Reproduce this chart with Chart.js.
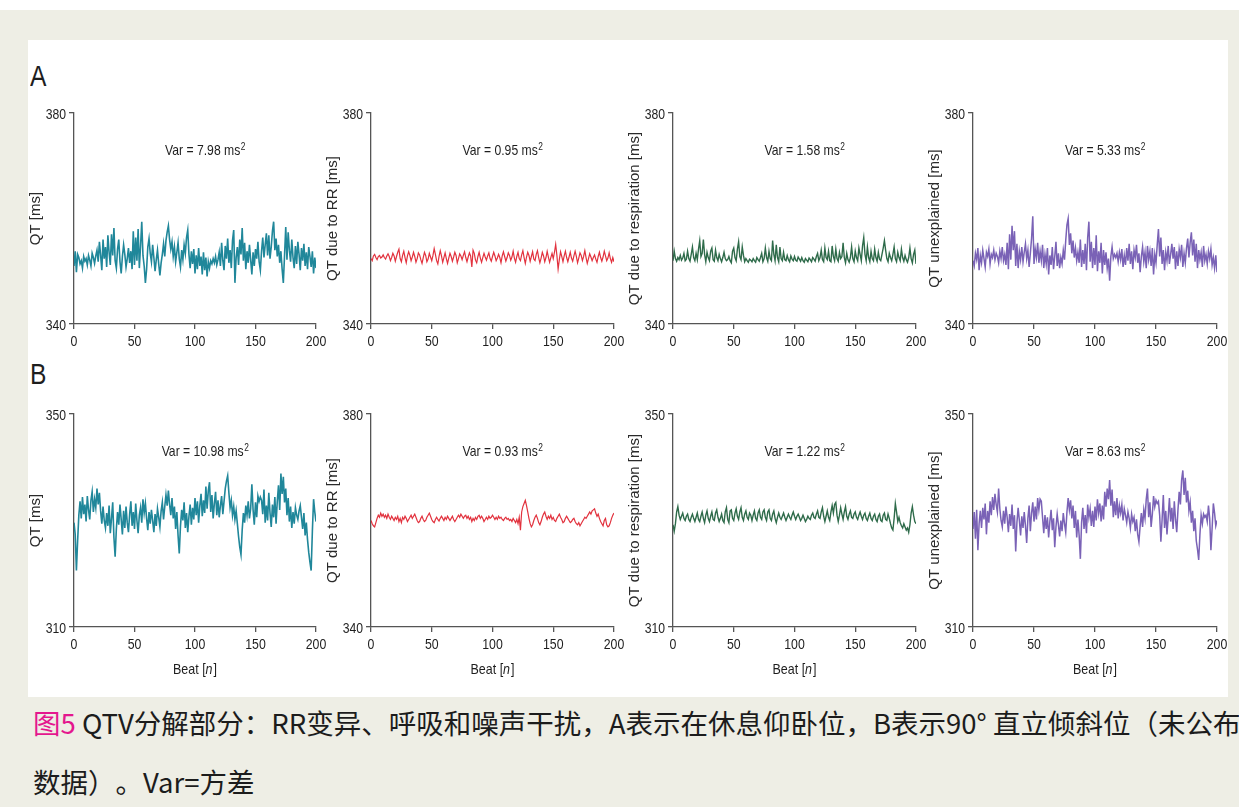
<!DOCTYPE html>
<html lang="zh">
<head>
<meta charset="utf-8">
<title>QTV分解部分</title>
<script src="https://cdn.jsdelivr.net/npm/chart.js@4.4.1/dist/chart.umd.min.js"></script>
<style>
  html, body { margin: 0; padding: 0; }
  body {
    width: 1239px; height: 807px; overflow: hidden; position: relative;
    background: #eeeee5;
  }
  .topband { position: absolute; left: 0; top: 0; width: 1239px; height: 10px; background: #fff; }
  .sheet { position: absolute; left: 28px; top: 40px; width: 1200px; height: 657px; background: #fff; }
  .letter {
    position: absolute; left: 30px; font-size: 29px; line-height: 29px; color: #1e1e1e;
    font-family: 'Liberation Sans', Arial, sans-serif;
    transform: scaleX(0.85); transform-origin: left top;
  }
  canvas { position: absolute; }
  .caption {
    position: absolute; left: 33px; white-space: nowrap; color: #1c1c1c;
    font-family: 'Noto Sans CJK SC', sans-serif; font-size: 27.5px; line-height: 30px; font-weight: 400;
    text-spacing-trim: space-all;
  }
  .caption .fig { color: #e4178e; }
</style>
</head>
<body>
<div class="topband"></div>
<div class="sheet"></div>
<div class="letter" style="top:62px">A</div>
<div class="letter" style="top:360px">B</div>
<div class="caption" style="top:707px"><span class="fig">图5</span> QTV分解部分：RR变异、呼吸和噪声干扰，A表示在休息仰卧位，B表示90° 直立倾斜位（未公布</div>
<div class="caption" style="top:766px">数据）。Var=方差</div>

<canvas id="a1"></canvas><canvas id="a2"></canvas><canvas id="a3"></canvas><canvas id="a4"></canvas>
<canvas id="b1"></canvas><canvas id="b2"></canvas><canvas id="b3"></canvas><canvas id="b4"></canvas>

<script>
// beat index shared by every trace
const beats = Array.from({ length: 201 }, (_, i) => i);
const xTicks = [0, 50, 100, 150, 200];

const yTitles = ['QT [ms]', 'QT due to RR [ms]', 'QT due to respiration [ms]', 'QT unexplained [ms]'];
const rangesA = [[340, 380], [340, 380], [340, 380], [340, 380]];
const rangesB = [[310, 350], [340, 380], [310, 350], [310, 350]];
const varianceA = ['7.98', '0.95', '1.58', '5.33'];
const varianceB = ['10.98', '0.93', '1.22', '8.63'];

// A: supine rest
const restQT = [
  351.0, 353.8, 349.8, 353.2, 352.6, 351.4, 352.0, 350.6, 352.8, 351.9, 352.4, 351.2, 353.0, 352.1, 351.0, 353.4, 352.6, 351.5, 352.9, 354.0,
  351.8, 355.6, 353.0, 350.2, 356.0, 352.4, 354.6, 350.8, 356.8, 353.6, 351.2, 357.0, 353.0, 358.2, 352.0, 350.6, 354.2, 356.0, 351.8, 349.6,
  352.8, 355.0, 353.2, 350.8, 352.4, 354.4, 351.6, 353.8, 350.4, 357.6, 351.2, 356.4, 352.0, 358.0, 350.6, 354.8, 359.4, 353.0, 351.0, 347.8,
  350.4, 354.6, 356.2, 353.4, 351.8, 355.0, 352.6, 350.0, 352.2, 354.0, 351.4, 349.2, 351.6, 353.2, 355.2, 352.8, 355.8, 357.4, 358.6, 356.0,
  354.2, 355.6, 352.8, 354.6, 351.8, 353.6, 355.4, 352.4, 350.8, 354.0, 352.2, 355.0, 353.4, 356.4, 357.8, 353.2, 350.6, 353.8, 351.4, 354.2,
  349.6, 353.0, 350.4, 354.4, 351.0, 352.8, 349.4, 353.6, 350.2, 352.6, 349.0, 351.8, 350.6, 352.0, 351.4, 352.4, 351.6, 352.8, 351.2, 352.2,
  353.6, 351.0, 355.4, 352.0, 350.2, 354.8, 352.4, 356.2, 351.6, 354.0, 350.6, 355.8, 357.8, 347.8, 352.6, 354.6, 351.2, 356.0, 353.2, 358.2,
  352.0, 355.4, 350.4, 353.8, 351.6, 355.0, 352.2, 349.4, 353.6, 351.0, 354.2, 352.4, 355.6, 351.8, 350.2, 353.8, 356.4, 352.6, 355.0, 357.2,
  353.0, 356.8, 352.4, 354.6, 357.6, 359.4, 354.0, 356.2, 352.8, 355.0, 351.6, 353.8, 350.4, 347.8, 353.0, 358.4, 352.2, 357.4, 354.0, 351.8,
  356.0, 352.6, 350.6, 354.8, 351.4, 355.6, 353.2, 350.2, 354.4, 352.0, 355.2, 351.0, 353.6, 350.4, 354.6, 352.8, 350.8, 353.8, 349.6, 352.6,
  350.6
];
const restQTrr = [
  352.4, 352.0, 352.9, 353.2, 352.6, 352.2, 352.8, 353.0, 352.5, 352.7, 353.1, 352.6, 352.3, 352.9, 353.3, 352.8, 352.0, 352.6, 353.4, 352.9,
  351.9, 352.8, 353.6, 354.2, 352.4, 351.8, 353.0, 353.8, 352.6, 351.6, 352.9, 353.7, 353.0, 352.0, 352.7, 353.6, 352.8, 351.7, 352.4, 353.5,
  353.1, 352.2, 351.5, 352.6, 353.6, 353.0, 351.8, 352.3, 353.4, 352.7, 352.0, 353.0, 354.3, 353.2, 352.0, 351.4, 352.8, 353.9, 352.9, 351.7,
  352.6, 353.5, 352.4, 351.5, 352.5, 353.4, 352.8, 351.9, 352.7, 353.6, 353.0, 351.6, 352.4, 353.3, 352.9, 352.2, 353.0, 353.7, 352.6, 351.8,
  352.7, 353.5, 352.9, 350.8, 354.0, 353.4, 352.1, 351.6, 352.8, 353.6, 352.5, 351.7, 352.6, 353.4, 352.7, 352.1, 352.9, 353.5, 352.4, 351.9,
  352.8, 353.6, 352.9, 352.0, 352.5, 353.2, 352.6, 351.6, 352.9, 353.7, 352.8, 351.9, 352.6, 353.5, 353.0, 352.1, 352.7, 353.8, 352.5, 351.7,
  352.8, 353.6, 352.4, 352.0, 353.1, 353.9, 352.6, 351.5, 352.7, 353.6, 353.0, 351.9, 352.8, 353.7, 352.3, 352.0, 353.2, 353.9, 352.6, 351.6,
  352.5, 353.6, 352.9, 351.8, 352.6, 353.8, 352.7, 351.7, 352.6, 353.4, 352.4, 353.6, 355.1, 353.0, 350.4, 352.2, 353.7, 352.8, 351.8, 352.9,
  353.8, 352.6, 351.8, 352.7, 353.6, 352.5, 351.9, 352.9, 353.8, 352.8, 351.6, 352.5, 353.5, 353.0, 352.0, 352.8, 353.9, 352.6, 351.5, 352.4,
  353.3, 352.7, 352.0, 352.6, 353.1, 352.3, 351.7, 352.8, 353.6, 352.6, 351.9, 352.7, 353.8, 352.9, 352.0, 352.5, 353.5, 352.4, 351.7, 352.6,
  351.8
];
const restQTresp = [
  352.0, 353.8, 352.4, 351.9, 352.6, 352.2, 353.0, 352.1, 352.5, 353.4, 352.0, 352.3, 353.8, 352.4, 351.9, 353.2, 354.6, 352.6, 352.0, 353.4,
  352.2, 354.2, 355.8, 352.8, 353.4, 356.0, 353.2, 351.8, 353.6, 352.6, 352.0, 353.8, 354.4, 352.2, 351.9, 354.0, 352.6, 352.0, 353.2, 352.4,
  351.8, 352.6, 353.6, 352.4, 352.0, 352.2, 352.8, 352.0, 351.6, 353.8, 354.4, 352.6, 352.0, 354.2, 355.6, 352.8, 352.2, 354.6, 353.0, 351.8,
  352.4, 352.0, 351.7, 352.3, 352.1, 351.8, 352.4, 352.0, 351.7, 352.6, 352.2, 351.9, 352.6, 353.4, 351.8, 352.4, 354.4, 352.6, 351.9, 353.8,
  352.4, 352.0, 355.8, 353.2, 352.0, 355.0, 352.6, 351.8, 354.6, 352.4, 352.0, 353.6, 352.2, 352.0, 353.0, 352.2, 351.8, 352.9, 352.3, 352.0,
  352.8, 352.1, 351.9, 352.7, 352.3, 351.9, 352.6, 352.0, 351.7, 352.4, 352.1, 351.8, 352.5, 352.2, 351.8, 352.6, 352.3, 351.9, 352.8, 353.4,
  352.0, 352.6, 354.0, 352.2, 351.8, 354.4, 352.6, 352.2, 353.8, 352.0, 351.8, 354.8, 352.8, 352.0, 354.2, 352.4, 351.9, 353.6, 352.4, 352.8,
  355.4, 352.6, 351.6, 353.4, 352.2, 351.7, 352.6, 354.6, 352.4, 351.8, 353.8, 352.6, 352.0, 354.4, 353.2, 352.0, 354.8, 356.4, 353.2, 352.0,
  354.6, 352.6, 351.8, 353.8, 352.4, 352.0, 354.2, 352.6, 351.9, 353.6, 352.3, 352.0, 353.2, 354.4, 355.8, 354.0, 352.4, 351.8, 353.4, 352.6,
  352.0, 353.2, 354.6, 352.4, 351.8, 353.6, 352.6, 352.0, 354.2, 352.6, 351.9, 353.0, 352.2, 351.7, 352.6, 354.4, 352.4, 351.6, 353.2, 354.0,
  351.4
];
const restQTres = [
  352.0, 351.0, 353.4, 352.2, 354.4, 350.2, 353.0, 351.6, 354.0, 352.4, 350.8, 353.6, 352.8, 354.2, 351.4, 353.2, 352.6, 354.0, 352.2, 353.4,
  352.8, 351.6, 353.8, 352.4, 354.6, 352.0, 353.2, 351.2, 355.4, 350.4, 357.0, 352.2, 358.6, 354.0, 357.6, 351.0, 355.2, 350.6, 353.8, 352.2,
  354.6, 351.8, 353.6, 355.2, 352.4, 354.0, 350.8, 353.4, 356.2, 360.4, 351.4, 354.2, 352.6, 355.4, 351.6, 353.8, 352.0, 355.0, 350.6, 353.2,
  351.4, 354.4, 349.4, 353.0, 351.2, 354.6, 350.4, 352.8, 355.6, 351.0, 353.4, 350.6, 352.6, 351.4, 354.0, 352.2, 355.8, 358.8, 360.0, 355.0,
  357.2, 353.4, 355.8, 352.6, 354.4, 352.0, 353.6, 351.6, 356.0, 350.8, 354.0, 351.4, 355.2, 350.2, 356.4, 359.4, 351.8, 355.6, 350.6, 354.4,
  351.2, 356.8, 350.0, 353.8, 351.6, 355.4, 349.6, 354.0, 351.2, 353.6, 350.6, 352.4, 348.2, 352.8, 354.6, 352.4, 353.2, 352.6, 353.4, 351.8,
  353.6, 352.2, 354.2, 350.8, 353.0, 351.2, 354.4, 352.0, 355.2, 351.4, 353.8, 350.4, 354.0, 352.6, 355.0, 351.6, 353.4, 349.8, 352.8, 354.6,
  351.8, 353.6, 350.6, 354.8, 352.2, 353.8, 351.0, 354.4, 349.4, 353.2, 351.6, 355.0, 358.0, 352.8, 356.4, 351.4, 354.0, 350.2, 353.6, 352.0,
  354.8, 351.4, 353.2, 355.2, 352.4, 354.6, 350.4, 353.8, 351.0, 354.2, 352.6, 355.0, 350.8, 353.4, 351.6, 354.4, 356.2, 352.6, 355.4, 357.4,
  353.0, 356.0, 351.8, 355.2, 350.6, 354.0, 352.2, 353.6, 350.8, 354.8, 352.0, 353.2, 351.4, 353.8, 352.4, 354.2, 351.2, 352.6, 350.6, 353.0,
  349.8
];

// B: 90° head-up tilt
const tiltQT = [
  329.6, 327.4, 320.6, 326.2, 331.0, 333.6, 330.4, 334.4, 331.2, 333.0, 329.8, 334.6, 332.0, 330.2, 333.8, 335.4, 331.6, 334.0, 332.4, 336.0,
  333.0, 335.2, 331.8, 329.4, 332.6, 330.0, 328.6, 331.4, 329.0, 332.8, 327.6, 330.4, 333.4, 326.8, 323.2, 328.4, 331.6, 329.2, 333.0, 330.2,
  327.4, 331.8, 328.6, 332.6, 329.6, 327.8, 331.2, 333.6, 329.0, 331.6, 328.4, 333.2, 330.0, 327.6, 331.0, 332.4, 329.6, 334.0, 331.4, 333.2,
  330.4, 328.2, 331.6, 329.4, 332.0, 330.0, 327.8, 331.2, 329.0, 332.2, 330.6, 328.8, 331.8, 333.4, 330.2, 332.6, 334.8, 332.8, 335.6, 333.0,
  331.0, 334.2, 330.4, 332.6, 328.4, 331.6, 327.2, 323.8, 329.0, 332.0, 330.0, 333.4, 328.6, 331.4, 327.8, 330.8, 333.0, 329.2, 332.4, 330.2,
  334.2, 331.0, 333.6, 329.6, 332.8, 335.0, 330.8, 333.8, 331.4, 336.4, 332.2, 335.6, 337.2, 331.6, 334.8, 330.4, 333.2, 335.4, 331.0, 333.8,
  330.6, 332.8, 334.6, 331.2, 333.6, 336.0, 337.4, 338.4, 335.2, 332.4, 333.8, 331.0, 332.6, 330.2, 331.8, 329.4, 327.0, 325.0, 323.6, 328.2,
  331.4, 329.6, 332.8, 331.0, 333.6, 330.4, 332.2, 336.8, 332.0, 329.2, 333.4, 330.6, 334.6, 333.6, 334.4, 333.8, 331.2, 335.8, 329.6, 332.8,
  330.0, 335.2, 331.4, 328.8, 333.0, 330.6, 334.4, 329.4, 333.6, 336.6, 332.0, 338.8, 335.0, 338.2, 333.4, 336.0, 331.0, 334.2, 329.8, 332.6,
  328.6, 331.6, 329.4, 332.4, 331.0, 330.2, 331.8, 332.8, 330.6, 328.4, 331.4, 327.2, 329.6, 326.4, 324.0, 322.2, 320.6, 328.0, 334.0, 331.6,
  329.8
];
const tiltQTrr = [
  360.0, 359.4, 359.0, 358.8, 359.6, 360.4, 361.0, 360.6, 361.4, 360.8, 361.2, 360.6, 361.0, 360.4, 361.2, 360.6, 360.2, 360.8, 360.4, 360.0,
  360.6, 360.2, 360.8, 359.8, 360.4, 359.6, 360.6, 360.2, 360.8, 360.4, 359.8, 360.2, 360.6, 361.0, 360.4, 360.8, 361.2, 360.6, 360.0, 359.6,
  359.8, 360.4, 360.8, 360.2, 359.8, 360.0, 360.6, 361.0, 361.4, 360.8, 360.2, 359.8, 359.6, 360.2, 360.6, 360.2, 359.9, 360.4, 360.8, 360.4,
  360.0, 360.6, 360.2, 360.8, 360.4, 360.0, 360.4, 360.8, 360.2, 359.8, 360.2, 360.6, 361.0, 360.6, 361.2, 360.8, 360.4, 360.8, 361.0, 360.4,
  360.8, 360.2, 360.6, 359.8, 360.4, 360.0, 360.6, 360.2, 360.8, 361.0, 360.4, 360.8, 360.4, 359.8, 360.2, 360.6, 360.2, 360.8, 360.4, 360.6,
  361.0, 360.6, 360.2, 360.6, 360.2, 360.8, 360.4, 360.6, 360.2, 360.0, 360.4, 360.6, 360.2, 360.4, 360.0, 360.2, 359.8, 360.4, 360.0, 359.6,
  360.2, 359.4, 360.6, 358.2, 361.6, 362.6, 363.2, 363.8, 362.8, 361.6, 360.4, 359.4, 358.8, 359.2, 360.0, 360.6, 361.0, 360.4, 359.6, 359.2,
  359.8, 360.6, 361.2, 361.6, 360.8, 360.2, 360.8, 360.4, 361.0, 360.2, 360.6, 360.0, 359.8, 360.4, 360.8, 361.2, 360.6, 360.2, 359.6, 359.8,
  360.4, 360.8, 360.4, 360.0, 359.6, 359.8, 360.2, 360.4, 359.8, 359.4, 359.2, 359.6, 359.0, 359.4, 359.8, 360.2, 360.6, 360.4, 360.8, 361.2,
  361.6, 361.2, 361.8, 362.0, 362.2, 361.4, 360.8, 361.2, 360.4, 359.8, 359.4, 359.0, 360.0, 360.4, 359.2, 358.8, 359.0, 359.6, 360.4, 361.0,
  361.4
];
const tiltQTresp = [
  329.2, 328.0, 329.4, 331.6, 332.6, 331.0, 330.2, 330.8, 331.4, 330.4, 330.0, 330.8, 331.2, 330.2, 329.8, 330.6, 331.2, 330.4, 329.8, 330.6,
  331.4, 330.2, 329.8, 330.8, 331.6, 330.4, 329.6, 331.0, 331.8, 330.4, 329.8, 330.8, 331.6, 330.2, 330.0, 331.4, 332.0, 330.6, 329.8, 330.4,
  331.2, 330.0, 329.6, 331.6, 332.4, 330.2, 329.6, 331.8, 332.0, 330.4, 330.0, 331.4, 332.2, 330.8, 330.2, 331.6, 332.4, 330.6, 330.0, 331.2,
  331.8, 330.6, 330.2, 331.4, 331.0, 330.0, 331.0, 331.8, 330.4, 330.0, 331.4, 332.0, 330.6, 330.2, 331.6, 332.0, 330.6, 330.0, 331.6, 332.0,
  330.4, 330.0, 331.2, 331.8, 330.4, 329.6, 330.6, 331.4, 330.6, 330.2, 330.8, 331.4, 330.6, 330.0, 330.6, 331.2, 330.6, 330.2, 331.0, 331.6,
  330.8, 330.2, 330.8, 331.2, 330.6, 330.0, 330.4, 331.0, 330.4, 329.8, 330.2, 330.8, 330.4, 330.2, 331.0, 331.4, 330.6, 330.4, 331.2, 331.8,
  330.6, 330.4, 331.6, 332.4, 330.8, 329.8, 330.8, 331.8, 330.6, 330.0, 331.6, 332.8, 331.4, 333.0, 333.4, 331.0, 329.8, 331.0, 332.4, 331.2,
  330.2, 331.6, 332.6, 330.8, 330.2, 331.2, 331.8, 330.6, 330.4, 331.2, 331.6, 330.6, 330.2, 331.0, 331.6, 330.8, 330.2, 331.0, 331.4, 330.4,
  330.0, 330.8, 331.4, 330.4, 330.0, 330.8, 331.2, 330.2, 329.8, 330.8, 331.2, 330.0, 329.8, 331.0, 331.4, 330.2, 330.0, 331.2, 330.4, 329.4,
  328.6, 328.2, 330.4, 333.2, 331.6, 329.8, 330.6, 329.6, 329.0, 328.6, 329.4, 328.8, 328.2, 328.6, 327.8, 329.2, 331.4, 332.6, 331.0, 329.8,
  329.4
];
const tiltQTres = [
  328.4, 331.6, 326.6, 332.0, 324.4, 329.4, 331.8, 328.6, 332.4, 330.2, 333.2, 327.4, 331.8, 329.6, 333.6, 331.0, 334.4, 332.0, 335.0, 333.0,
  331.6, 336.0, 332.2, 330.0, 328.8, 331.8, 329.4, 332.6, 330.6, 327.8, 331.2, 329.0, 333.0, 328.4, 331.0, 324.2, 329.6, 332.4, 330.0, 327.2,
  330.8, 328.6, 331.6, 329.0, 325.8, 330.4, 332.8, 328.0, 331.4, 333.4, 329.8, 332.6, 330.2, 334.2, 332.0, 334.0, 333.6, 330.6, 327.6, 331.0,
  328.4, 330.6, 326.8, 329.8, 332.0, 328.2, 330.4, 325.0, 328.8, 331.2, 329.2, 327.0, 330.0, 328.0, 331.4, 329.4, 327.8, 331.6, 334.2, 332.0,
  333.8, 330.4, 332.8, 328.6, 331.8, 326.8, 330.2, 327.2, 322.8, 329.6, 332.4, 328.4, 331.0, 327.6, 333.0, 330.6, 332.2, 329.0, 331.8, 328.8,
  332.6, 330.0, 334.0, 331.4, 333.2, 329.8, 332.8, 330.2, 335.4, 332.6, 336.0, 334.0, 337.6, 332.8, 335.8, 330.6, 333.6, 331.0, 334.2, 330.4,
  332.8, 331.4, 333.0, 330.0, 332.2, 331.0, 329.6, 331.6, 330.4, 328.6, 331.2, 329.8, 330.6, 328.0, 330.2, 327.4, 326.0, 329.0, 331.4, 328.8,
  332.0, 330.4, 334.0, 336.0, 330.6, 333.4, 328.8, 331.2, 334.6, 332.6, 333.8, 333.2, 333.6, 331.0, 326.0, 330.2, 334.8, 328.6, 331.8, 327.4,
  330.6, 334.2, 329.8, 332.4, 328.4, 333.6, 330.2, 327.8, 332.0, 335.4, 333.0, 337.6, 339.4, 334.8, 338.0, 333.4, 335.6, 331.8, 333.4, 329.6,
  331.8, 328.0, 330.4, 326.2, 324.6, 322.6, 327.4, 331.0, 329.4, 331.2, 330.6, 331.0, 329.8, 332.8, 330.4, 324.4, 328.6, 333.2, 331.4, 329.0,
  330.0
];

const seriesA = [restQT, restQTrr, restQTresp, restQTres];
const seriesB = [tiltQT, tiltQTrr, tiltQTresp, tiltQTres];

// drawing style
const COLORS = ['#20879a', '#e2323e', '#2e6b4a', '#7a62b6'];
const LINE_W = [1.6, 1.2, 1.4, 1.5];
const AXIS = '#555555';
const INK = '#1e1e1e';
const SANS = "'Liberation Sans', Arial, sans-serif";

// plot area layout: y-axis x position, row top, sizes
const colX = [74, 371, 673, 973];
const colW = [242, 243, 243, 244];
const rows = [
  { key: 'a', top: 113, h: 211, bottom: 30, series: seriesA, ranges: rangesA, variance: varianceA, beat: false },
  { key: 'b', top: 414, h: 213, bottom: 62, series: seriesB, ranges: rangesB, variance: varianceB, beat: true }
];
const AXIS_W = 50, PAD_TOP = 12, PAD_RIGHT = 22;

// text in a horizontally squeezed face (the figure uses a condensed sans)
function squeezed(ctx, text, x, y, size, align, squeeze, italic) {
  ctx.save();
  ctx.font = (italic ? 'italic ' : '') + size + 'px ' + SANS;
  ctx.translate(x, y);
  ctx.scale(squeeze, 1);
  ctx.textAlign = align;
  ctx.fillText(text, 0, 0);
  const w = ctx.measureText(text).width * squeeze;
  ctx.restore();
  return w;
}
function squeezedWidth(ctx, text, size, squeeze, italic) {
  ctx.save();
  ctx.font = (italic ? 'italic ' : '') + size + 'px ' + SANS;
  const w = ctx.measureText(text).width * squeeze;
  ctx.restore();
  return w;
}

// tick labels, "Var = x ms²" and the "Beat [n]" axis label
const panelText = {
  id: 'panelText',
  afterDraw(chart, args, opts) {
    const { ctx, chartArea: a, scales } = chart;
    ctx.save();
    ctx.fillStyle = INK;
    ctx.textBaseline = 'alphabetic';

    scales.x.ticks.forEach(t => {
      squeezed(ctx, String(t.value), scales.x.getPixelForValue(t.value), a.bottom + 22, 15, 'center', 0.82);
    });
    scales.y.ticks.forEach(t => {
      squeezed(ctx, String(t.value), a.left - 8, scales.y.getPixelForValue(t.value) + 5.5, 14.5, 'right', 0.84);
    });

    const main = 'Var = ' + opts.variance + ' ms';
    const w1 = squeezedWidth(ctx, main, 14.5, 0.84);
    const w2 = squeezedWidth(ctx, '2', 10, 0.84);
    const x0 = (a.left + a.right) / 2 + 10 - (w1 + w2) / 2;
    const y0 = a.top + 42;
    squeezed(ctx, main, x0, y0, 14.5, 'left', 0.84);
    squeezed(ctx, '2', x0 + w1 + 0.5, y0 - 5, 10, 'left', 0.84);

    if (opts.beat) {
      const parts = [['Beat [', false], ['n', true], [']', false]];
      const total = parts.reduce((s, [t, it]) => s + squeezedWidth(ctx, t, 14.5, 0.86, it) + (it ? 1 : 0), 0);
      let x = (a.left + a.right) / 2 - total / 2;
      parts.forEach(([t, it]) => {
        x += squeezed(ctx, t, x, a.bottom + 47, 14.5, 'left', 0.86, it) + (it ? 1 : 0);
      });
    }
    ctx.restore();
  }
};

rows.forEach(row => {
  row.series.forEach((values, i) => {
    const canvas = document.getElementById(row.key + (i + 1));
    canvas.width = AXIS_W + colW[i] + PAD_RIGHT;
    canvas.height = PAD_TOP + row.h + row.bottom;
    canvas.style.left = (colX[i] - AXIS_W) + 'px';
    canvas.style.top = (row.top - PAD_TOP) + 'px';

    const [yMin, yMax] = row.ranges[i];
    new Chart(canvas.getContext('2d'), {
      type: 'line',
      data: {
        datasets: [{
          data: values.map((v, k) => ({ x: beats[k], y: v })),
          borderColor: COLORS[i],
          borderWidth: LINE_W[i],
          pointRadius: 0,
          tension: 0,
          fill: false
        }]
      },
      options: {
        responsive: false,
        animation: false,
        events: [],
        layout: { padding: { top: PAD_TOP, right: PAD_RIGHT, left: 0, bottom: 0 } },
        plugins: {
          legend: { display: false },
          tooltip: { enabled: false },
          panelText: { variance: row.variance[i], beat: row.beat }
        },
        scales: {
          x: {
            type: 'linear',
            min: xTicks[0],
            max: xTicks[xTicks.length - 1],
            afterBuildTicks: s => { s.ticks = xTicks.map(v => ({ value: v })); },
            ticks: { display: false },
            grid: { drawOnChartArea: false, tickLength: 5, color: AXIS, lineWidth: 1.3 },
            border: { color: AXIS, width: 1.3 },
            afterFit: s => { s.height = row.bottom; }
          },
          y: {
            min: yMin,
            max: yMax,
            afterBuildTicks: s => { s.ticks = [{ value: yMin }, { value: yMax }]; },
            ticks: { display: false },
            grid: { drawOnChartArea: false, tickLength: 5, color: AXIS, lineWidth: 1.3 },
            border: { color: AXIS, width: 1.3 },
            title: {
              display: true,
              text: yTitles[i],
              color: '#2a2a2a',
              font: { family: SANS, size: 15, lineHeight: 1.2 },
              padding: { top: 3, bottom: 0 }
            },
            afterFit: s => { s.width = AXIS_W; }
          }
        }
      },
      plugins: [panelText]
    });
  });
});
</script>
</body>
</html>
